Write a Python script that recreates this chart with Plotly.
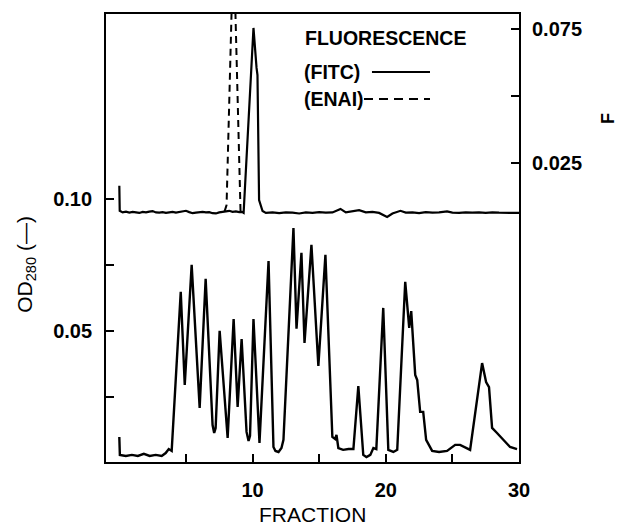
import plotly.graph_objects as go

# ---------------- data ----------------
fraction_od = [0.0, 0.04, 0.49, 0.94, 1.39, 1.84, 2.28, 2.73, 3.18, 3.48, 3.71, 3.93,
               4.61, 4.91, 5.43, 6.03, 6.48, 7.00, 7.12, 7.23, 7.53, 8.13, 8.58, 8.88,
               9.18, 9.55, 9.70, 9.81, 10.07, 10.52, 11.2, 11.57, 11.72, 11.95, 12.17,
               12.32, 13.07, 13.3, 13.67, 13.9, 14.42, 14.94, 15.47, 15.99, 16.2, 16.3,
               16.44, 16.8, 17.2, 17.57, 17.94, 18.31, 18.55, 18.84, 19.07, 19.29, 19.81,
               20.19, 20.57, 20.86, 21.46, 21.61, 21.76, 21.91, 22.21, 22.36, 22.58,
               22.81, 23.03, 23.48, 24.0, 24.6, 25.21, 25.58, 26.33, 27.23, 27.53, 27.75,
               27.98, 28.35, 28.80, 29.33, 29.85]
od280 = [0.0098, 0.0030, 0.0026, 0.0030, 0.0026, 0.0034, 0.0026, 0.0030, 0.0026, 0.0037,
         0.0052, 0.0045, 0.0648, 0.0295, 0.0750, 0.0208, 0.0697, 0.0143, 0.0113, 0.0132,
         0.0500, 0.0094, 0.0545, 0.0212, 0.0469, 0.0117, 0.0083, 0.0102, 0.0545, 0.0075,
         0.0765, 0.0060, 0.0045, 0.0041, 0.0056, 0.0087, 0.0890, 0.0508, 0.0796, 0.0454,
         0.0826, 0.0367, 0.0788, 0.0098, 0.0090, 0.0106, 0.0056, 0.0049, 0.0052, 0.0052,
         0.0291, 0.0030, 0.0022, 0.0030, 0.0056, 0.0052, 0.0587, 0.0049, 0.0041, 0.0049,
         0.0686, 0.0587, 0.0511, 0.0575, 0.0333, 0.0314, 0.0193, 0.0193, 0.0087, 0.0045,
         0.0041, 0.0045, 0.0068, 0.0068, 0.0049, 0.0378, 0.0306, 0.0287, 0.0132, 0.0113,
         0.0087, 0.0060, 0.0052]

fraction_fitc = [0.0, 0.03, 0.25, 0.5, 0.75, 1.0, 1.25, 1.5, 1.75, 2.0, 2.25, 2.5, 2.75,
                 3.0, 3.25, 3.5, 3.75, 4.0, 4.25, 4.5, 4.75, 5.0, 5.25, 5.5, 5.75, 6.0,
                 6.25, 6.5, 6.75, 7.0, 7.25, 7.5, 7.75, 8.0, 8.25, 8.5, 8.75, 9.0, 9.2,
                 9.33, 10.07, 10.30, 10.37, 10.49, 10.75, 11.0, 11.5, 12.0, 12.5, 13.0,
                 13.5, 14.0, 14.5, 15.0, 15.5, 16.0, 16.6, 17.0, 17.5, 18.0, 18.5, 19.0,
                 19.5, 20.1, 20.5, 21.1, 21.5, 22.0, 22.5, 23.0, 23.5, 24.0, 24.6, 25.0,
                 25.5, 26.0, 26.5, 27.0, 27.5, 28.0, 28.5, 29.0, 29.5, 30.0]
fitc = [0.0165, 0.0072, 0.0066, 0.0069, 0.0065, 0.0068, 0.0066, 0.0064, 0.0068, 0.0066,
        0.0069, 0.0071, 0.0066, 0.0065, 0.0067, 0.0064, 0.0066, 0.0068, 0.0065, 0.0067,
        0.0070, 0.0072, 0.0067, 0.0063, 0.0065, 0.0066, 0.0068, 0.0066, 0.0067, 0.0063,
        0.0062, 0.0066, 0.0068, 0.0069, 0.0072, 0.0068, 0.0070, 0.0067, 0.0068, 0.0064,
        0.0754, 0.0605, 0.0578, 0.0112, 0.0071, 0.0064, 0.0066, 0.0063, 0.0066, 0.0065,
        0.0062, 0.0066, 0.0064, 0.0067, 0.0065, 0.0066, 0.0079, 0.0066, 0.0069, 0.0074,
        0.0066, 0.0068, 0.0064, 0.0049, 0.0062, 0.0072, 0.0065, 0.0066, 0.0063, 0.0067,
        0.0065, 0.0066, 0.0070, 0.0065, 0.0064, 0.0066, 0.0065, 0.0066, 0.0064, 0.0066,
        0.0065, 0.0064, 0.0065, 0.0064]

fraction_enai = [7.9, 8.05, 8.57, 9.1, 9.25]
enai = [0.0070, 0.0093, 0.109, 0.0066, 0.0066]

x_tickvals = [10, 20, 30]
x_ticktext = ["10", "20", "30"]
x_minor = [5, 15, 25]
od_tickvals = [0.05, 0.10]
od_ticktext = ["0.05", "0.10"]
od_minor = [0.025, 0.075]
f_tickvals = [0.025, 0.075]
f_ticktext = ["0.025", "0.075"]
f_minor = [0.05]

# ---------------- figure ----------------
FONT = "Liberation Sans"
fig = go.Figure()
fig.add_trace(go.Scatter(x=fraction_od, y=od280, mode="lines", yaxis="y",
                         line=dict(color="black", width=2.4), showlegend=False))
fig.add_trace(go.Scatter(x=fraction_fitc, y=fitc, mode="lines", yaxis="y2",
                         line=dict(color="black", width=2.2), showlegend=False))
fig.add_trace(go.Scatter(x=fraction_enai, y=enai, mode="lines", yaxis="y2",
                         line=dict(color="black", width=2, dash="7px,5px"),
                         showlegend=False))

tickfont = dict(family=FONT, size=20, color="black", weight="bold")
tickstyle = dict(ticks="inside", ticklen=8, tickwidth=1.5, tickcolor="black")


def minor(vals):
    return dict(tickmode="array", tickvals=vals, **tickstyle)


fig.update_layout(
    width=621, height=526,
    margin=dict(l=106, r=102, t=14, b=64, autoexpand=False),
    paper_bgcolor="white", plot_bgcolor="white",
    xaxis=dict(range=[-1.0, 30.0], tickvals=x_tickvals, ticktext=x_ticktext,
               minor=minor(x_minor), **tickstyle, automargin=False,
               showline=True, linecolor="black", linewidth=1.8, mirror=True,
               showgrid=False, zeroline=False, tickfont=tickfont,
               ticklabelstandoff=9),
    yaxis=dict(range=[0.0003, 0.1701], tickvals=od_tickvals, ticktext=od_ticktext,
               minor=minor(od_minor), **tickstyle, automargin=False,
               showline=True, linecolor="black", linewidth=1.8, mirror=True,
               showgrid=False, zeroline=False, tickfont=tickfont,
               ticklabelstandoff=8),
    yaxis2=dict(range=[-0.0865, 0.0806], tickvals=f_tickvals, ticktext=f_ticktext,
                minor=minor(f_minor), **tickstyle, automargin=False,
                overlaying="y", side="right",
                showline=False, showgrid=False, zeroline=False, tickfont=tickfont,
                ticklabelstandoff=12),
)

annot = dict(xref="paper", yref="paper", showarrow=False,
             xanchor="center", yanchor="middle")
fig.add_annotation(text="FRACTION", x=0.501, y=-0.117, **annot,
                   font=dict(family=FONT, size=21, color="black"))
fig.add_annotation(text="OD<sub>280</sub> (—)", x=-0.194, y=0.442, textangle=-90,
                   **annot, font=dict(family=FONT, size=21, color="black"))
fig.add_annotation(text="F", x=1.2155, y=0.7656, textangle=-90, **annot,
                   font=dict(family=FONT, size=18, color="black", weight="bold"))

legend_annot = dict(xref="paper", yref="paper", showarrow=False,
                    xanchor="left", yanchor="middle")
fig.add_annotation(text="FLUORESCENCE", x=0.478, y=0.9475, **legend_annot,
                   font=dict(family=FONT, size=19.5, color="black", weight="bold"))
fig.add_annotation(text="(FITC)", x=0.474, y=0.8705, **legend_annot,
                   font=dict(family=FONT, size=19.5, color="black", weight="bold"))
fig.add_annotation(text="(ENAI)", x=0.474, y=0.8103, **legend_annot,
                   font=dict(family=FONT, size=19.5, color="black", weight="bold"))
fig.add_shape(type="line", xref="paper", yref="paper", x0=0.644, x1=0.7845,
              y0=0.8705, y1=0.8705, line=dict(color="black", width=1.8))
fig.add_shape(type="line", xref="paper", yref="paper", x0=0.6247, x1=0.7845,
              y0=0.8103, y1=0.8103, line=dict(color="black", width=1.8, dash="9px,6px"))

# remove the default 8px page margin so the figure fills the window exactly
fig.write_html("out.html", config={"displayModeBar": False},
               post_script="document.body.style.margin='0';"
                           "document.body.style.overflow='hidden';")
